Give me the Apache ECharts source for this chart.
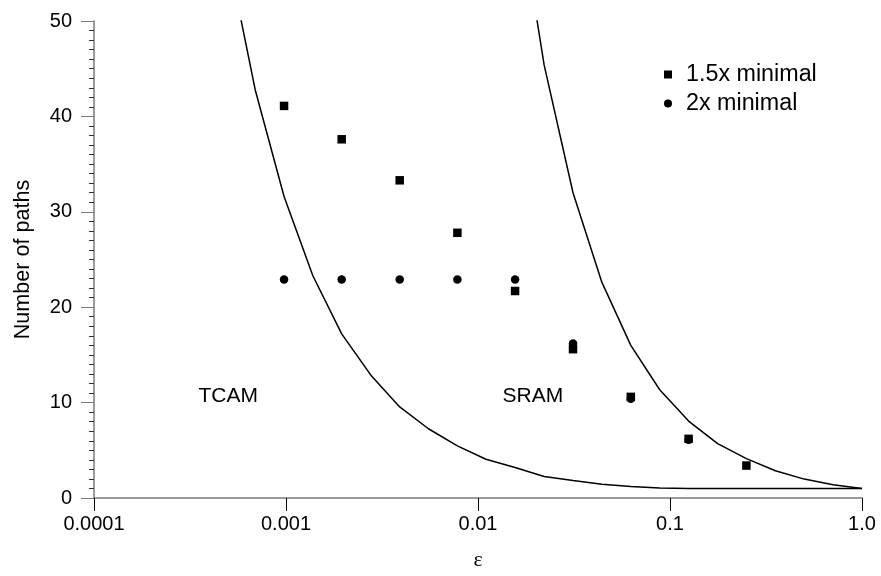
<!DOCTYPE html>
<html lang="en">
<head>
    <meta charset="utf-8">
    <title>Number of paths vs epsilon</title>
    <script src="https://cdn.jsdelivr.net/npm/echarts@6/dist/echarts.min.js"></script>
</head>
<body style="margin:0;background:#fff">
<div id="main" style="width:881px;height:576px"></div>
<script type="text/javascript">
    // measured points (epsilon = 2^-10 ... 2^-2)
    var epsPts = [0.000977, 0.00195, 0.00391, 0.00781, 0.0156, 0.03125, 0.0625, 0.125, 0.25];
    var minimal15 = [41.1, 37.6, 33.3, 27.8, 21.7, 15.6, 10.6, 6.2, 3.4];
    var minimal2 = [22.9, 22.9, 22.9, 22.9, 22.9, 16.2, 10.4, 6.1];

    // TCAM boundary curve
    var tcamEps = [0.000488, 0.000691, 0.000977, 0.00138, 0.00195, 0.00276, 0.00391, 0.00552, 0.00781,
        0.0110, 0.0156, 0.0221, 0.03125, 0.0442, 0.0625, 0.0884, 0.125, 0.25, 0.5, 1.0];
    var tcamN = [57.8, 42.8, 31.6, 23.3, 17.2, 12.9, 9.55, 7.26, 5.46,
        4.06, 3.2, 2.25, 1.83, 1.45, 1.2, 1.04, 1.0, 1.0, 1.0, 1.0];

    // SRAM boundary curve
    var sramEps = [0.0156, 0.0221, 0.03125, 0.0442, 0.0625, 0.0884, 0.125, 0.177, 0.25, 0.354, 0.5, 0.707, 1.0];
    var sramN = [64.5, 45.4, 32.0, 22.6, 16.0, 11.35, 8.06, 5.7, 4.13, 2.85, 1.98, 1.4, 1.0];

    var xTickLabels = ['0.0001', '0.001', '0.01', '0.1', '1.0'];
    var regionNames = ['TCAM', 'SRAM'];
    var regionPos = [[0.0005, 10.7], [0.0193, 10.7]];

    function pairs(xs, ys) {
        return ys.map(function (y, i) { return [xs[i], y]; });
    }

    var font = 'Liberation Sans, Arial, sans-serif';
    var axisGrey = '#7a7a7a';

    var myChart = echarts.init(document.getElementById('main'));
    myChart.setOption({
        animation: false,
        textStyle: {fontFamily: font, color: '#000'},
        grid: {left: 94, right: 19, top: 21, bottom: 75, containLabel: false},
        legend: {
            orient: 'vertical',
            left: 659,
            top: 58,
            itemWidth: 8,
            itemHeight: 8,
            itemGap: 6,
            data: [{name: '1.5x minimal', icon: 'rect'}, {name: '2x minimal', icon: 'circle'}],
            itemStyle: {color: '#000', opacity: 1},
            textStyle: {fontSize: 23.3, lineHeight: 23, color: '#000', fontFamily: font, padding: [0, 0, 0, 9]}
        },
        xAxis: {
            type: 'log',
            logBase: 10,
            min: 0.0001,
            max: 1,
            name: 'ε',
            nameLocation: 'middle',
            nameGap: 51,
            nameTextStyle: {fontFamily: 'Liberation Serif, serif', fontSize: 22, color: '#000'},
            axisLine: {lineStyle: {color: axisGrey, width: 1.5}},
            axisTick: {length: 13, lineStyle: {color: '#000', width: 1}},
            axisLabel: {
                fontSize: 20, color: '#000', margin: 16,
                formatter: function (v) {
                    var i = Math.round(Math.log10(v)) + 4;
                    return xTickLabels[i] || '';
                }
            },
            splitLine: {show: false}
        },
        yAxis: {
            type: 'value',
            min: 0,
            max: 50,
            interval: 10,
            name: 'Number of paths',
            nameLocation: 'middle',
            nameGap: 60,
            nameTextStyle: {fontSize: 21.6, color: '#000'},
            axisLine: {show: true, lineStyle: {color: axisGrey, width: 1.5}},
            axisTick: {show: true, length: 13, lineStyle: {color: axisGrey, width: 1}},
            minorTick: {show: true, splitNumber: 10, length: 5, lineStyle: {color: '#333', width: 1}},
            axisLabel: {fontSize: 20, color: '#000', margin: 22},
            splitLine: {show: false}
        },
        series: [
            {
                name: 'TCAM', type: 'line', data: pairs(tcamEps, tcamN),
                showSymbol: false, symbol: 'none', clip: true,
                lineStyle: {color: '#000', width: 1.5}, z: 2
            },
            {
                name: 'SRAM', type: 'line', data: pairs(sramEps, sramN),
                showSymbol: false, symbol: 'none', clip: true,
                lineStyle: {color: '#000', width: 1.5}, z: 2
            },
            {
                name: '2x minimal', type: 'scatter', data: pairs(epsPts, minimal2),
                symbol: 'circle', symbolSize: 8.5,
                itemStyle: {color: '#000', opacity: 1}, z: 3
            },
            {
                name: '1.5x minimal', type: 'scatter', data: pairs(epsPts, minimal15),
                symbol: 'rect', symbolSize: 8.5,
                itemStyle: {color: '#000', opacity: 1}, z: 4
            }
        ]
    });

    // region labels placed in data coordinates
    var gr = regionNames.map(function (t, i) {
        var p = myChart.convertToPixel({gridIndex: 0}, regionPos[i]);
        return {
            type: 'text', x: p[0], y: p[1], z: 10,
            style: {text: t, fontSize: 21, fontFamily: font, fill: '#000', align: 'center', verticalAlign: 'middle'}
        };
    });
    myChart.setOption({graphic: gr});
</script>
</body>
</html>
